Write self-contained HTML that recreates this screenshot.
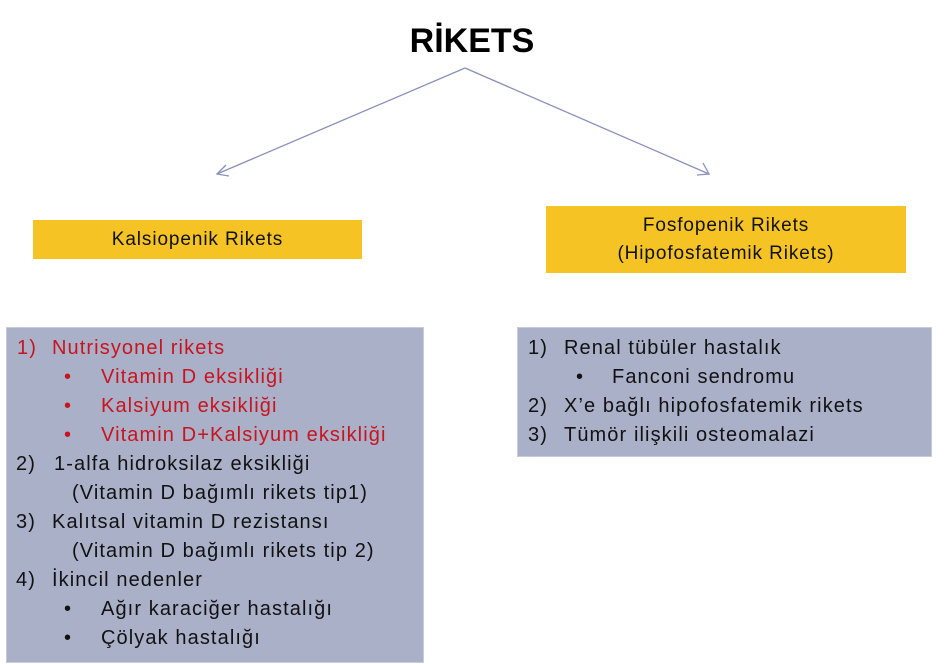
<!DOCTYPE html>
<html><head><meta charset="utf-8"><style>
body{margin:0;width:944px;height:664px;background:#fff;position:relative;overflow:hidden;font-family:"Liberation Sans",sans-serif}
.a{position:absolute}
.y{background:#F5C324;color:#111;font-size:19px;letter-spacing:0.9px;text-align:center;display:flex;align-items:center;justify-content:center;line-height:28px}
.b{background:#AAB0C8;border:1px solid #c8cbd8;box-sizing:border-box}
.l{position:absolute;font-size:20px;letter-spacing:1.1px;white-space:nowrap;line-height:29px;color:#111}
.r{color:#c8141e}
</style></head><body>
<div class="a" style="left:0;width:944px;top:22px;text-align:center;font-weight:bold;font-size:34px">RİKETS</div>
<svg class="a" style="left:0;top:0" width="944" height="664">
<g stroke="#8a90b8" stroke-width="1.3" fill="none">
<line x1="465" y1="68" x2="217" y2="174"/><line x1="465" y1="68" x2="709" y2="174"/>
<polyline points="226,165 217,174 229,176"/><polyline points="697,175 709,174 703,163"/>
</g></svg>
<div class="a y" style="left:33px;top:220px;width:329px;height:39px">Kalsiopenik Rikets</div>
<div class="a y" style="left:546px;top:206px;width:360px;height:67px">Fosfopenik Rikets<br>(Hipofosfatemik Rikets)</div>
<div class="a b" style="left:6px;top:327px;width:418px;height:336px"></div>
<div class="a b" style="left:517px;top:327px;width:415px;height:130px"></div>
<div class="l r" style="left:17px;top:334px">1)</div><div class="l r" style="left:52px;top:334px">Nutrisyonel rikets</div>
<div class="l r" style="left:64px;top:363px">•</div><div class="l r" style="left:101px;top:363px">Vitamin D eksikliği</div>
<div class="l r" style="left:64px;top:392px">•</div><div class="l r" style="left:101px;top:392px">Kalsiyum eksikliği</div>
<div class="l r" style="left:64px;top:421px">•</div><div class="l r" style="left:101px;top:421px">Vitamin D+Kalsiyum eksikliği</div>
<div class="l" style="left:16px;top:450px">2)</div><div class="l" style="left:54px;top:450px">1-alfa hidroksilaz eksikliği</div>
<div class="l" style="left:72px;top:479px">(Vitamin D bağımlı rikets tip1)</div>
<div class="l" style="left:16px;top:508px">3)</div><div class="l" style="left:52px;top:508px">Kalıtsal vitamin D rezistansı</div>
<div class="l" style="left:72px;top:537px">(Vitamin D bağımlı rikets tip 2)</div>
<div class="l" style="left:16px;top:566px">4)</div><div class="l" style="left:52px;top:566px">İkincil nedenler</div>
<div class="l" style="left:64px;top:595px">•</div><div class="l" style="left:101px;top:595px">Ağır karaciğer hastalığı</div>
<div class="l" style="left:64px;top:624px">•</div><div class="l" style="left:101px;top:624px">Çölyak hastalığı</div>
<div class="l" style="left:528px;top:334px">1)</div><div class="l" style="left:564px;top:334px">Renal tübüler hastalık</div>
<div class="l" style="left:576px;top:363px">•</div><div class="l" style="left:612px;top:363px">Fanconi sendromu</div>
<div class="l" style="left:528px;top:392px">2)</div><div class="l" style="left:564px;top:392px">X’e bağlı hipofosfatemik rikets</div>
<div class="l" style="left:528px;top:421px">3)</div><div class="l" style="left:564px;top:421px">Tümör ilişkili osteomalazi</div>
</body></html>
